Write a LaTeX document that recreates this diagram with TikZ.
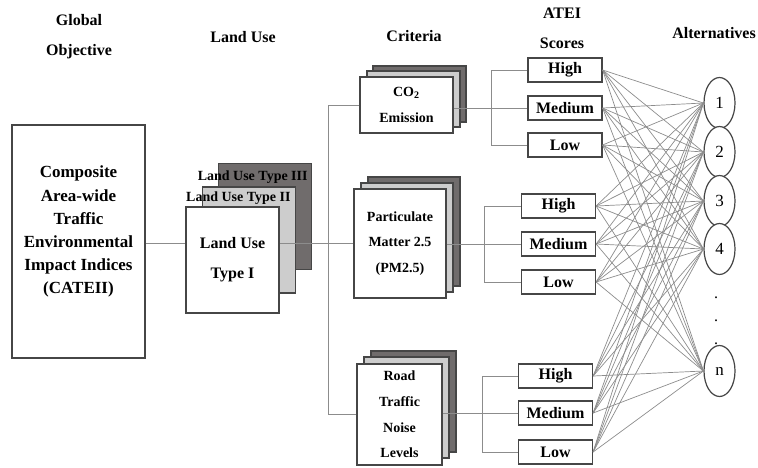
\documentclass[tikz,border=0pt]{standalone}
\usepackage{fontspec}
\setmainfont{Liberation Serif}
\usetikzlibrary{shapes.geometric}

\definecolor{edge}{RGB}{70,70,70}
\definecolor{lightlayer}{RGB}{205,205,205}
\definecolor{darklayer}{RGB}{112,108,108}
\definecolor{wire}{RGB}{140,140,140}

\begin{document}
\begin{tikzpicture}[x=0.5pt, y=-0.5pt,
  box/.style={draw=edge, fill=white, line width=0.6pt, inner sep=0pt, align=center},
  layerA/.style={box, fill=lightlayer},
  layerB/.style={box, fill=darklayer},
  head/.style={font=\bfseries\fontsize{8}{15}\selectfont, align=center},
  lusize/.style={minimum width=46.5pt, minimum height=53pt},
  cosize/.style={minimum width=46.5pt, minimum height=28pt},
  pmsize/.style={minimum width=46pt, minimum height=54.5pt},
  nosize/.style={minimum width=42.5pt, minimum height=50.5pt},
  crit/.style={font=\bfseries\fontsize{7}{12.8}\selectfont},
  typelab/.style={anchor=east, inner sep=0pt, font=\bfseries\fontsize{7}{8}\selectfont},
  score/.style={box, minimum width=37pt, minimum height=12pt, font=\bfseries\fontsize{8}{10}\selectfont},
  alt/.style={draw=edge, fill=white, ellipse, line width=0.6pt, inner sep=0pt,
    minimum width=15.5pt, minimum height=25.5pt, font=\fontsize{8.5}{10}\selectfont},
  conn/.style={draw=wire, line width=0.5pt},
  fan/.style={draw=wire, line width=0.35pt}
]
\useasboundingbox (0,0) rectangle (758,467);

% column headings
\node[head] (hgoal) at (79,37) {Global\\Objective};
\node[head] (hland) at (243,37) {Land Use};
\node[head] (hcrit) at (414,36) {Criteria};
\node[head] (hscore) at (562,28) {ATEI\\Scores};
\node[head] (halt) at (714,33) {Alternatives};

% global objective
\node[box, minimum width=66.5pt, minimum height=116.5pt,
  font=\bfseries\fontsize{8.5}{11.6}\selectfont] (goal) at (78.5,241.5)
  {Composite\\Area-wide\\Traffic\\Environmental\\Impact Indices\\(CATEII)\\\mbox{}};

% land use stack (back layers)
\node[layerB, lusize] (lu3) at (265,216.5) {};
\node[typelab] (lu3lab) at (308,177) {Land Use Type III};
\node[layerA, lusize] (lu2) at (249,240) {};
\node[typelab] (lu2lab) at (291,198) {Land Use Type II};

% criteria stacks
\node[layerB, cosize] (co3) at (419.5,94) {};
\node[layerA, cosize] (co2) at (413.5,99) {};
\node[box, cosize, crit, font=\bfseries\fontsize{7}{13}\selectfont] (co1) at (406.5,105) {CO\textsubscript{2}\\Emission};

\node[layerB, pmsize] (pm3) at (414,231.5) {};
\node[layerA, pmsize] (pm2) at (407,237.5) {};
\node[box, pmsize, crit] (pm1) at (400,243.5) {Particulate\\Matter 2.5\\(PM2.5)};

\node[layerB, nosize] (no3) at (413.5,401.5) {};
\node[layerA, nosize] (no2) at (406.5,407.5) {};
\node[box, nosize, crit] (no1) at (399.5,414.5) {Road\\Traffic\\Noise\\Levels};

% objective to criteria
\draw[conn] (goal.east |- pm1.west) -- (pm1.west);
\node[box, lusize, font=\bfseries\fontsize{8}{15}\selectfont] (lu1) at (232.5,260) {Land Use\\Type I};
\coordinate (lubus) at (328,244);
\draw[conn] (co1.west) -| (lubus);
\draw[conn] (no1.west) -| (lubus);

% ATEI scores
\node[score] (coH) at (565,70) {High};
\node[score] (coM) at (565,108) {Medium};
\node[score] (coL) at (565,145) {Low};
\node[score] (pmH) at (558.5,206) {High};
\node[score] (pmM) at (558.5,244) {Medium};
\node[score] (pmL) at (558.5,282) {Low};
\node[score] (noH) at (555.5,376) {High};
\node[score] (noM) at (555.5,413) {Medium};
\node[score] (noL) at (555.5,452) {Low};

\coordinate (cobus) at (491,108);
\coordinate (pmbus) at (484,244);
\coordinate (nobus) at (482,413);
\draw[conn] (co1.east |- coM.west) -- (coM.west);
\draw[conn] (coH.west) -| (cobus) |- (coL.west);
\draw[conn] (pm1.east |- pmM.west) -- (pmM.west);
\draw[conn] (pmH.west) -| (pmbus) |- (pmL.west);
\draw[conn] (no1.east |- noM.west) -- (noM.west);
\draw[conn] (noH.west) -| (nobus) |- (noL.west);

% alternatives
\node[alt] (a1) at (719.5,103) {1};
\node[alt] (a2) at (719.5,152) {2};
\node[alt] (a3) at (719.5,201) {3};
\node[alt] (a4) at (719.5,249) {4};
\node[alt] (an) at (719.5,371) {n};
\node[align=center, inner sep=0pt, font=\fontsize{8}{11.5}\selectfont] (dots) at (716,321) {.\\.\\.};

\foreach \s in {coH,coM,coL,pmH,pmM,pmL,noH,noM,noL}
  \foreach \a in {a1,a2,a3,a4,an}
    \draw[fan] (\s.east) -- (\a.west);
\end{tikzpicture}
\end{document}
